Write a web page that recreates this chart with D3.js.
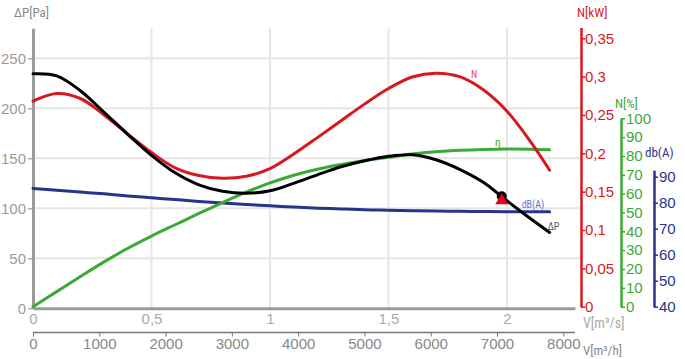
<!DOCTYPE html>
<html><head><meta charset="utf-8">
<script src="https://cdn.jsdelivr.net/npm/d3@7"></script>
<style>
html,body{margin:0;padding:0;background:#fff;}
svg{display:block;font-family:'Liberation Sans Narrow','Roboto Condensed',Roboto,sans-serif;}
</style></head>
<body><svg id="c" width="685" height="359"></svg>
<script>
// ---- data ----
const flow =       [0, 0.1, 0.2, 0.3, 0.4, 0.5, 0.6, 0.7, 0.8, 0.9, 1.0, 1.1, 1.2, 1.3, 1.4, 1.5, 1.6, 1.7, 1.8, 1.9, 2.0, 2.1, 2.18];
const pressure =   [234.5, 232.5, 217.6, 196, 174, 153, 135.5, 123.5, 117, 115, 117.5, 125, 133.5, 141.5, 147.5, 152, 153.5, 148.5, 139, 126, 107.5, 89.5, 75.8];
const power =      [0.268, 0.278, 0.2715, 0.250, 0.225, 0.201, 0.181, 0.171, 0.1675, 0.170, 0.180, 0.199, 0.2205, 0.2425, 0.2645, 0.2845, 0.2995, 0.3045, 0.300, 0.283, 0.255, 0.215, 0.178];
const efficiency = [0, 8, 16, 23.8, 31, 37.5, 43.5, 49.5, 55.3, 60.8, 65.7, 69.8, 73, 75.5, 77.6, 79.3, 81, 82.2, 83, 83.5, 83.7, 83.6, 83.3];
const noise =      [85.5, 84.8, 84.1, 83.4, 82.6, 81.9, 81.2, 80.5, 79.9, 79.3, 78.8, 78.3, 77.9, 77.6, 77.3, 77.1, 76.9, 76.8, 76.7, 76.6, 76.5, 76.5, 76.5];
const flowTicks = [0, 0.5, 1, 1.5, 2];
const flowTickLabels = ["0", "0,5", "1", "1,5", "2"];
const flowHTicks = [0, 1000, 2000, 3000, 4000, 5000, 6000, 7000, 8000];
const pressureTicks = [0, 50, 100, 150, 200, 250];
const powerTicks = [0, 0.05, 0.1, 0.15, 0.2, 0.25, 0.3, 0.35];
const powerTickLabels = ["0", "0,05", "0,1", "0,15", "0,2", "0,25", "0,3", "0,35"];
const effTicks = [0, 10, 20, 30, 40, 50, 60, 70, 80, 90, 100];
const noiseTicks = [40, 50, 60, 70, 80, 90];
const opFlow = [1.978];
const opPressure = [112];

// ---- scales ----
const svg = d3.select("#c");
const x = d3.scaleLinear().domain([0, 2.287]).range([33, 575]);
const xh = d3.scaleLinear().domain([0, 8000]).range([33, 563.3]);
const y = d3.scaleLinear().domain([0, 280]).range([308.3, 28.3]);
const yN = d3.scaleLinear().domain([0, 0.35]).range([306.7, 38.3]);
const yE = d3.scaleLinear().domain([0, 100]).range([306.7, 118.3]);
const yD = d3.scaleLinear().domain([40, 90]).range([306.7, 176.7]);

const grey = "#9a9a9a", red = "#d7191f", green = "#3aaa35", blue = "#27348b";
const FS = 15;

// grid
const g = svg.append("g");
g.selectAll("line.h").data(pressureTicks.slice(1)).join("line")
  .attr("x1", x(0)).attr("x2", 580).attr("y1", d => y(d)).attr("y2", d => y(d))
  .attr("stroke", "#e6e6e6").attr("stroke-width", 2);
g.selectAll("line.v").data(flowTicks.slice(1)).join("line")
  .attr("x1", d => x(d)).attr("x2", d => x(d)).attr("y1", y(280)).attr("y2", y(0))
  .attr("stroke", "#e6e6e6").attr("stroke-width", 2);

// left axis
const la = svg.append("g").attr("transform", `translate(${x(0)},0)`)
  .call(d3.axisLeft(y).tickValues(pressureTicks).tickSize(5).tickSizeOuter(0).tickPadding(2));
la.select(".domain").attr("stroke", grey).attr("stroke-width", 3);
la.selectAll(".tick line").attr("stroke", grey).attr("stroke-width", 1.2);
la.selectAll("text").attr("fill", "#9a9a9a").attr("font-size", FS);
svg.append("text").attr("x", 14).attr("y", 17).attr("fill", "#888").attr("font-size", 13).text("ΔP[Pa]");

// bottom axis (m3/s)
const ba = svg.append("g").attr("transform", `translate(0,${y(0)})`)
  .call(d3.axisBottom(x).tickValues(flowTicks).tickFormat((d, i) => flowTickLabels[i]).tickSize(0).tickSizeOuter(0).tickPadding(5));
ba.select(".domain").attr("stroke", grey).attr("stroke-width", 3);
ba.selectAll("text").attr("fill", "#aaa").attr("font-size", FS);
svg.append("text").attr("x", 583).attr("y", 328).attr("fill", "#aaa").attr("font-size", 14).text("V[m³/s]");

// bottom axis (m3/h)
const bh = svg.append("g").attr("transform", "translate(0,332.5)")
  .call(d3.axisBottom(xh).tickValues(flowHTicks).tickFormat(d3.format("d")).tickSize(4).tickSizeOuter(0).tickPadding(2));
bh.select(".domain").attr("stroke", "#777").attr("stroke-width", 1.5).attr("d", `M33,0H575`);
bh.selectAll(".tick line").attr("stroke", "#777");
bh.selectAll("text").attr("fill", "#888").attr("font-size", FS);
svg.append("text").attr("x", 583).attr("y", 355).attr("fill", "#888").attr("font-size", 13).text("V[m³/h]");

// red axis
const yNa = d3.scaleLinear().domain([0, 0.364]).range([yN(0), yN(0.364)]);
const ra = svg.append("g").attr("transform", "translate(581,0)")
  .call(d3.axisRight(yNa).tickValues(powerTicks).tickFormat((d, i) => powerTickLabels[i]).tickSize(4).tickSizeOuter(0).tickPadding(0));
ra.select(".domain").attr("stroke", red).attr("stroke-width", 2.5);
ra.selectAll(".tick line").attr("stroke", red).attr("stroke-width", 1.5);
ra.selectAll("text").attr("fill", red).attr("font-size", FS);
svg.append("text").attr("x", 577).attr("y", 17).attr("fill", red).attr("font-size", 13).text("N[kW]");

// green axis
const ga = svg.append("g").attr("transform", "translate(621,0)")
  .call(d3.axisRight(yE).tickValues(effTicks).tickSize(4).tickSizeOuter(0).tickPadding(1));
ga.select(".domain").attr("stroke", green).attr("stroke-width", 2.5);
ga.selectAll(".tick line").attr("stroke", green).attr("stroke-width", 1.5);
ga.selectAll("text").attr("fill", green).attr("font-size", FS);
svg.append("text").attr("x", 615).attr("y", 108).attr("fill", green).attr("font-size", 13).text("N[%]");

// blue axis
const yDa = d3.scaleLinear().domain([40, 92.5]).range([yD(40), yD(92.5)]);
const da = svg.append("g").attr("transform", "translate(654,0)")
  .call(d3.axisRight(yDa).tickValues(noiseTicks).tickSize(4).tickSizeOuter(0).tickPadding(1));
da.select(".domain").attr("stroke", blue).attr("stroke-width", 2.5);
da.selectAll(".tick line").attr("stroke", blue).attr("stroke-width", 1.5);
da.selectAll("text").attr("fill", blue).attr("font-size", FS);
svg.append("text").attr("x", 645).attr("y", 157).attr("fill", blue).attr("font-size", 13).text("db(A)");

// curves
const curve = d3.curveCatmullRom.alpha(0.5);
function draw(vals, ys, color) {
  svg.append("path").datum(vals)
    .attr("d", d3.line().x((d, i) => x(flow[i])).y(d => ys(d)).curve(curve))
    .attr("fill", "none").attr("stroke", color).attr("stroke-width", 3).attr("stroke-linecap", "round");
}
draw(noise, yD, blue);
draw(efficiency, yE, green);
draw(power, yN, red);
draw(pressure, y, "#000");

// curve labels
const last = flow.length - 1;
svg.append("text").attr("x", 471).attr("y", 78).attr("fill", "#dd4a4a").attr("font-size", 10).text("N");
svg.append("text").attr("x", 495).attr("y", 146).attr("fill", green).attr("font-size", 11).text("η");
svg.append("text").attr("x", x(flow[last]) - 28).attr("y", yD(noise[last]) - 4).attr("fill", "#6770c4").attr("font-size", 10).text("dB(A)");
svg.append("text").attr("x", x(flow[last]) - 2).attr("y", y(pressure[last]) - 3).attr("fill", "#555").attr("font-size", 10).text("ΔP");

// operating point
svg.append("circle").attr("cx", x(opFlow[0])).attr("cy", y(opPressure[0])).attr("r", 5).attr("fill", "#000");
svg.append("path").attr("transform", `translate(${x(opFlow[0])},${y(opPressure[0]) + 3})`)
  .attr("d", "M0,-6L6.5,5L-6.5,5Z").attr("fill", "#e3001b");
</script></body></html>
